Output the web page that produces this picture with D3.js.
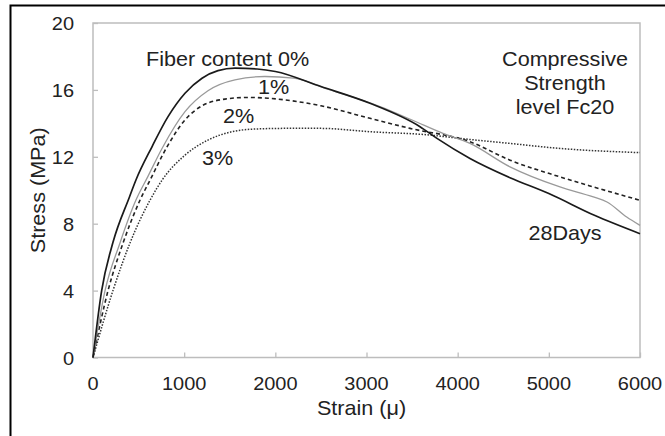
<!DOCTYPE html>
<html><head><meta charset="utf-8">
<script src="https://cdn.jsdelivr.net/npm/d3@7"></script>
<style>html,body{margin:0;padding:0;background:#fff;}svg{display:block;}</style>
</head><body>
<svg id="chart" width="665" height="436"></svg>
<script>
// ---- data ----
const xTicks = [0, 1000, 2000, 3000, 4000, 5000, 6000];
const yTicks = [0, 4, 8, 12, 16, 20];

const strain0 = [0, 95, 220, 400, 470, 647, 823, 1009, 1196, 1371, 1557, 1800, 2000, 2500, 3038, 3587, 3773, 4135, 4574, 5000, 5500, 6000];
const stress0 = [0, 4, 6.9, 9.6, 10.6, 12.6, 14.4, 15.8, 16.7, 17.15, 17.3, 17.25, 17.1, 16.2, 15.2, 13.8, 13.1, 11.9, 10.75, 9.8, 8.5, 7.4];

const strain1 = [0, 132, 296, 470, 600, 757, 1009, 1261, 1557, 1886, 2200, 2600, 3148, 3500, 3839, 4135, 4574, 5122, 5488, 5638, 5854, 6000];
const stress1 = [0, 4, 6.85, 9.4, 10.8, 12.5, 14.7, 15.95, 16.6, 16.8, 16.7, 16.0, 15.0, 14.2, 13.4, 12.8, 11.4, 10.2, 9.6, 9.3, 8.4, 7.9];

const strain2 = [0, 165, 330, 515, 625, 823, 1009, 1196, 1448, 1700, 1920, 2500, 3038, 3477, 4135, 4574, 5122, 5488, 6000];
const stress2 = [0, 4, 6.85, 9.4, 10.6, 12.7, 14.2, 15.05, 15.45, 15.55, 15.5, 15.05, 14.3, 13.7, 12.9, 11.8, 10.8, 10.2, 9.4];

const strain3 = [0, 222, 406, 625, 757, 1009, 1261, 1525, 1744, 2106, 2500, 3038, 3696, 4025, 4574, 5122, 6000];
const stress3 = [0, 4.05, 6.85, 9.4, 10.6, 12.1, 13.0, 13.5, 13.65, 13.7, 13.7, 13.5, 13.3, 13.1, 12.8, 12.5, 12.25];

const seriesLabels = ["Fiber content 0%", "1%", "2%", "3%"];
const noteLines = ["Compressive", "Strength", "level Fc20"];
const ageLabel = "28Days";
const xTitle = "Strain (\u03bc)";
const yTitle = "Stress (MPa)";

// ---- drawing ----
const svg = d3.select("#chart");
const FONT = "'Liberation Sans', Arial, Helvetica, sans-serif";
const TXT = "#222";

const pL = 93, pR = 640, pT = 23, pB = 357.5;
const x = d3.scaleLinear().domain([0, 6000]).range([pL, pR]);
const y = d3.scaleLinear().domain([0, 20]).range([pB, pT]);

// outer black frame (extends past the window on right/bottom)
svg.append("rect").attr("x", 10.5).attr("y", 5.5).attr("width", 700).attr("height", 500)
  .attr("fill", "none").attr("stroke", "#000").attr("stroke-width", 2);

function stretchedText(g, str, tx, ty, size, sx, anchor, rot) {
  return g.append("text")
    .attr("transform", `translate(${tx},${ty})` + (rot ? ` rotate(${rot})` : "") + ` scale(${sx},1)`)
    .attr("text-anchor", anchor || "start")
    .attr("font-family", FONT).attr("font-size", size).attr("fill", TXT)
    .text(str);
}

// plot frame
svg.append("rect").attr("x", pL).attr("y", pT).attr("width", pR - pL).attr("height", pB - pT)
  .attr("fill", "none").attr("stroke", "#bdbdbd").attr("stroke-width", 1.5);

// axes with inward ticks
const gx = svg.append("g").attr("transform", `translate(0,${pB})`)
  .call(d3.axisBottom(x).tickValues(xTicks).tickSize(-5).tickFormat(""));
const gy = svg.append("g").attr("transform", `translate(${pL},0)`)
  .call(d3.axisLeft(y).tickValues(yTicks).tickSize(-5).tickFormat(""));
[gx, gy].forEach(g => {
  g.select(".domain").remove();
  g.selectAll(".tick line").attr("stroke", "#bdbdbd").attr("stroke-width", 1.3);
});

// tick labels
const tl = svg.append("g");
xTicks.forEach(v => stretchedText(tl, String(v), x(v), 390, 19, 1.05, "middle"));
yTicks.forEach(v => stretchedText(tl, String(v), 74, y(v) + 7, 19, 1.05, "end"));

// axis titles
stretchedText(svg, xTitle, (pL + pR) / 2 - 5, 415, 20, 1.08, "middle");
stretchedText(svg, yTitle, 45, (pT + pB) / 2, 20, 1.08, "middle", -90);

// curves
const line = d3.line().x(d => x(d[0])).y(d => y(d[1])).curve(d3.curveMonotoneX);
const zip = (a, b) => a.map((v, i) => [v, b[i]]);
const curves = [
  { data: zip(strain3, stress3), stroke: "#333", width: 1.5, dash: "1.5,1.5" },
  { data: zip(strain2, stress2), stroke: "#222", width: 1.6, dash: "4,3" },
  { data: zip(strain1, stress1), stroke: "#9a9a9a", width: 1.3, dash: null },
  { data: zip(strain0, stress0), stroke: "#1a1a1a", width: 1.7, dash: null }
];
const cg = svg.append("g");
curves.forEach(c => {
  cg.append("path").attr("d", line(c.data)).attr("fill", "none")
    .attr("stroke", c.stroke).attr("stroke-width", c.width)
    .attr("stroke-dasharray", c.dash).attr("stroke-linejoin", "round");
});

// annotations
const ag = svg.append("g");
stretchedText(ag, seriesLabels[0], 146, 66, 20, 1.08, "start");
stretchedText(ag, seriesLabels[1], 258, 94, 20, 1.08, "start");
stretchedText(ag, seriesLabels[2], 223, 123, 20, 1.08, "start");
stretchedText(ag, seriesLabels[3], 202, 165, 20, 1.08, "start");
noteLines.forEach((s, i) => stretchedText(ag, s, 565, 66 + i * 24, 20, 1.08, "middle"));
stretchedText(ag, ageLabel, 565, 240, 20, 1.08, "middle");
</script>
</body></html>
